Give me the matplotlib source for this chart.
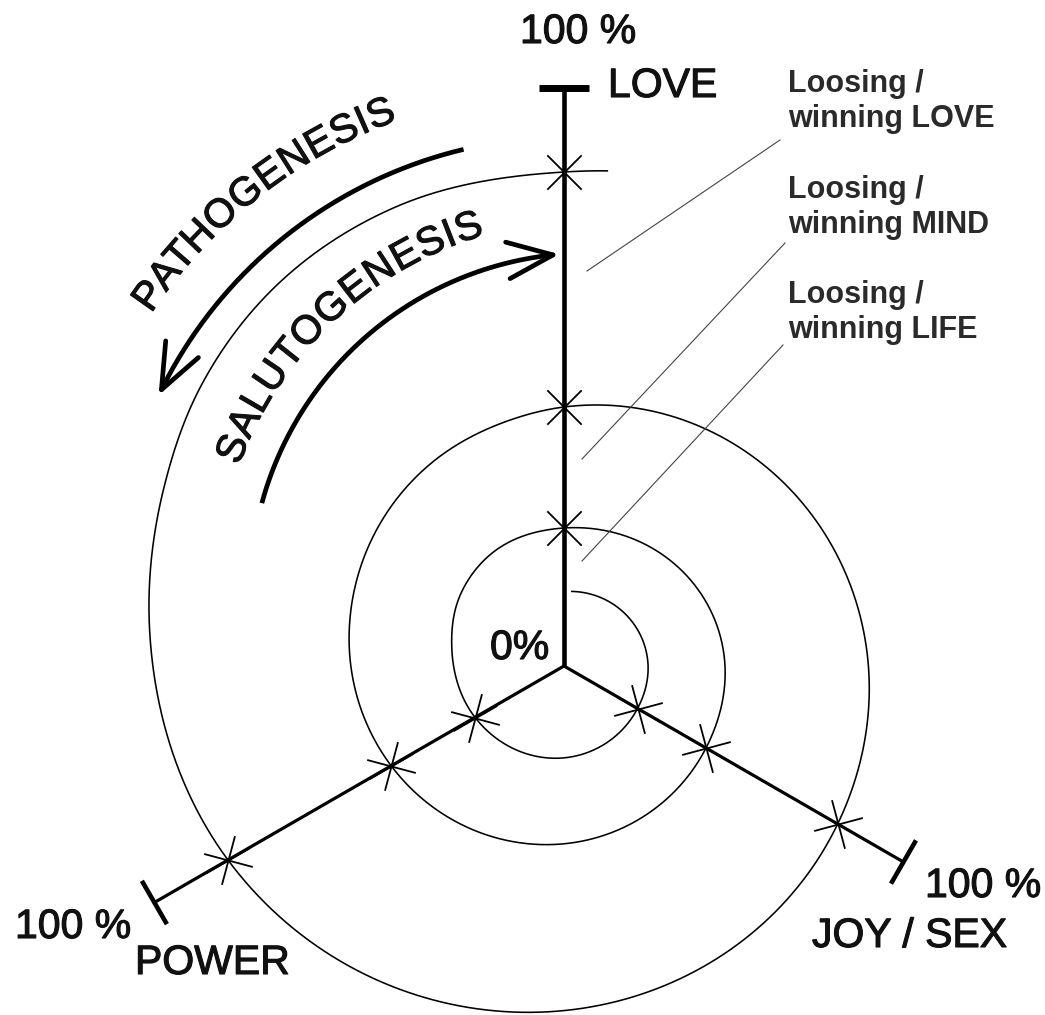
import numpy as np
import matplotlib
matplotlib.use('Agg')
import matplotlib.pyplot as plt
import matplotlib.patheffects as pe
from matplotlib.path import Path
from matplotlib.font_manager import FontProperties
from matplotlib.textpath import text_to_path

plt.rcParams['font.family'] = ['Liberation Sans', 'DejaVu Sans']

# centre of the diagram (image pixels, y down)
cx, cy = 564, 666

# the three axes: compass angle (deg clockwise from up) and length in px
axis_angle = [0, 120, 240]
axis_len = [578, 392, 473]
axis_lw = [3.3, 2.3, 2.3]
cap_lw = [5.0, 3.3, 3.3]

# stars where the spiral crosses each axis (radius in px)
love_marks = [138, 259, 494]
joy_marks = [85, 164, 316]
power_marks = [103, 200, 388]

# spiral: compass angle (deg, unwrapped) and radius
spiral_deg = [6, 88, 121, 181, 241, 280, 305, 328, 360, 450, 480, 544, 601, 640, 688,
              708, 720, 809, 840, 904, 960, 995, 1014, 1028, 1044, 1060, 1080, 1085]
spiral_r = [75, 84, 85, 92, 103, 114, 126, 134, 138, 161, 164, 179, 200, 218, 243,
            252, 259, 304, 316, 347, 388, 416, 438, 459, 478, 489, 494, 497]

side_labels = ['Loosing /\nwinning LOVE', 'Loosing /\nwinning MIND', 'Loosing /\nwinning LIFE']

bold_fx = [pe.withStroke(linewidth=0.8, foreground='#111111')]


def hermite(xk, yk, x):
    xk = np.asarray(xk, float)
    yk = np.asarray(yk, float)
    h = np.diff(xk)
    d = np.diff(yk) / h
    m = np.empty_like(yk)
    m[0], m[-1] = d[0], d[-1]
    m[1:-1] = (d[:-1] * h[1:] + d[1:] * h[:-1]) / (h[:-1] + h[1:])
    i = np.clip(np.searchsorted(xk, x) - 1, 0, len(h) - 1)
    t = (x - xk[i]) / h[i]
    h00 = 2 * t**3 - 3 * t**2 + 1
    h10 = t**3 - 2 * t**2 + t
    h01 = -2 * t**3 + 3 * t**2
    h11 = t**3 - t**2
    return h00 * yk[i] + h10 * h[i] * m[i] + h01 * yk[i + 1] + h11 * h[i] * m[i + 1]


def polar(a_deg, r):
    a = np.radians(a_deg)
    return cx + r * np.sin(a), cy - r * np.cos(a)


def star_marker(phi):
    # line along the axis plus an X turned 45 deg to it
    verts, codes = [], []
    for d in (phi, phi + 45, phi - 45):
        c, s = np.cos(np.radians(d)), np.sin(np.radians(d))
        verts += [(-c, -s), (c, s)]
        codes += [Path.MOVETO, Path.LINETO]
    return Path(verts, codes)


fig = plt.figure(figsize=(10.45, 10.15), dpi=100)
ax = fig.add_axes([0, 0, 1, 1])
ax.set_xlim(0, 1045)
ax.set_ylim(1015, 0)
ax.axis('off')

# spiral
th = np.linspace(spiral_deg[0], spiral_deg[-1], 3000)
rr = hermite(spiral_deg, spiral_r, th)
sx, sy = polar(th, rr)
ax.plot(sx, sy, color='k', lw=1.15)

# axes with end caps and stars
for a, L, lw, clw, marks in zip(axis_angle, axis_len, axis_lw, cap_lw,
                                [love_marks, joy_marks, power_marks]):
    ex, ey = polar(a, L)
    ax.plot([cx, ex], [cy, ey], color='k', lw=lw, solid_capstyle='butt')
    px, py = np.cos(np.radians(a)), np.sin(np.radians(a))
    ax.plot([ex - 25 * px, ex + 25 * px], [ey - 25 * py, ey + 25 * py],
            color='k', lw=clw, solid_capstyle='butt')
    mx, my = polar(a, np.array(marks))
    ax.plot(mx, my, ls='none', marker=star_marker(90 - a), ms=35, mew=1.3,
            color='k')


def arc_arrow(ccx, ccy, r, phi0, phi1):
    ph = np.radians(np.linspace(phi0, phi1, 300))
    x = ccx + r * np.cos(ph)
    y = ccy - r * np.sin(ph)
    ax.plot(x, y, color='k', lw=3.4, solid_capstyle='butt')
    u = np.array([x[-8] - x[-1], y[-8] - y[-1]])
    u /= np.hypot(*u)
    for s in (-1, 1):
        c, sn = np.cos(np.radians(22 * s)), np.sin(np.radians(22 * s))
        v = np.array([c * u[0] - sn * u[1], sn * u[0] + c * u[1]])
        ax.plot([x[-1], x[-1] + 49 * v[0]], [y[-1], y[-1] + 49 * v[1]],
                color='k', lw=3.4, solid_capstyle='round')


def arc_text(s, ccx, ccy, r, phi0, phi1, size):
    fp = FontProperties(family='Liberation Sans', size=size)
    w = [0.0] + [text_to_path.get_text_width_height_descent(s[:i], fp, ismath=False)[0]
                 for i in range(1, len(s) + 1)]
    mids = np.array([(w[i] + w[i + 1]) / 2 for i in range(len(s))])
    t = (mids - mids[0]) / (mids[-1] - mids[0])
    for ch, phi in zip(s, phi0 + (phi1 - phi0) * t):
        p = np.radians(phi)
        ax.text(ccx + r * np.cos(p), ccy - r * np.sin(p), ch, fontsize=size,
                color='#111111', rotation=phi - 90, rotation_mode='anchor',
                ha='center', va='center', path_effects=bold_fx)


arc_arrow(569, 592, 455, 103.4, 153.6)
arc_arrow(589, 592, 339, 164.8, 96.1)
arc_text('PATHOGENESIS', 569, 592, 513, 144.8, 111.5, 29)
arc_text('SALUTOGENESIS', 589, 592, 383, 158.1, 108.3, 29)

# side labels with leader lines
label_y = [127, 233, 338]
line_start = [(780, 140), (785, 243), (783, 345)]
line_end = [(587, 271), (582, 459), (582, 561)]
for lab, y, p0, p1 in zip(side_labels, label_y, line_start, line_end):
    ax.text(788, y, lab, fontsize=22, fontweight='bold', color='#2a2a2a',
            ha='left', va='baseline', linespacing=1.2)
    ax.plot([p0[0], p1[0]], [p0[1], p1[1]], color='#444444', lw=0.8)

big = dict(fontsize=29.5, color='#111111', ha='left', va='baseline',
           path_effects=bold_fx)
ax.text(520, 43, '100 %', **big)
ax.text(608, 97, 'LOVE', **big)
ax.text(490, 659, '0%', **big)
ax.text(15, 938, '100 %', **big)
ax.text(135, 974, 'POWER', **big)
ax.text(925, 897, '100 %', **big)
ax.text(812, 947, 'JOY / SEX', **big)

fig.savefig('out.png', dpi=100)
